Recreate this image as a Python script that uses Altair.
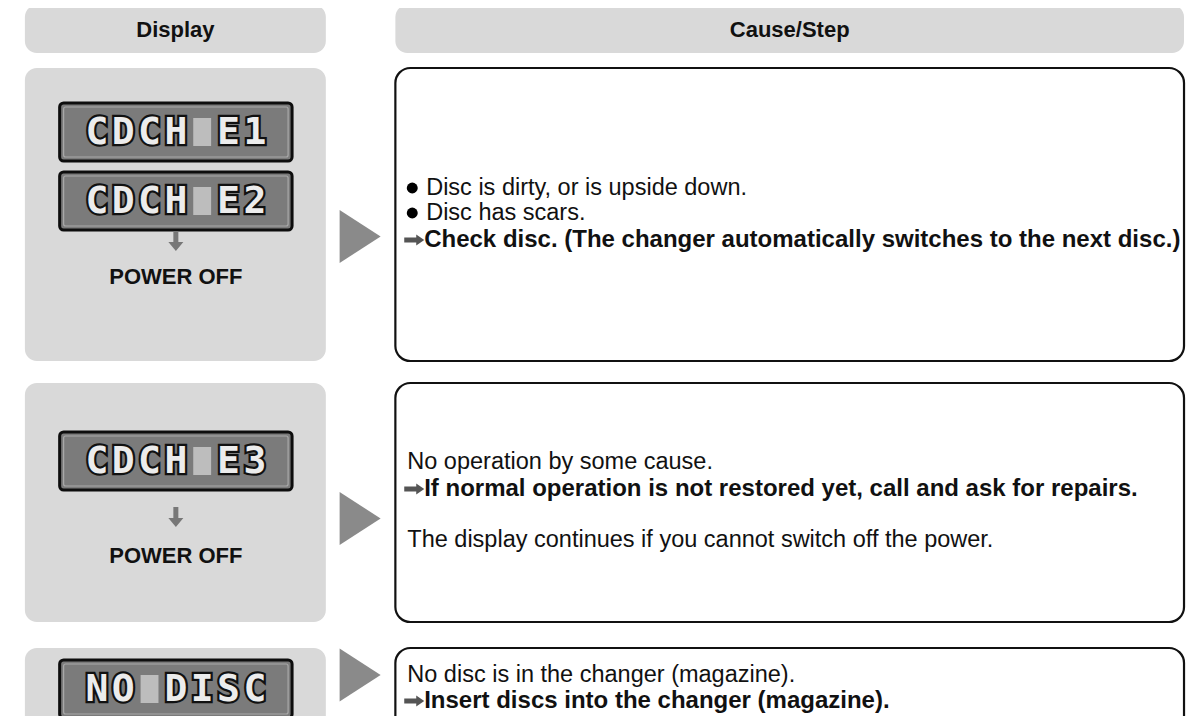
import altair as alt
import pandas as pd

# ---------------- content ----------------
headers = ["Display", "Cause/Step"]
lcd_rows = [["CDCH E1", "CDCH E2"], ["CDCH E3"], ["NO DISC"]]
after_lcd = ["POWER OFF", "POWER OFF", ""]
line_kinds = [["bullet", "bullet", "step"], ["plain", "step", "plain"], ["plain", "step"]]
line_texts = [
    ["Disc is dirty, or is upside down.",
     "Disc has scars.",
     "Check disc. (The changer automatically switches to the next disc.)"],
    ["No operation by some cause.",
     "If normal operation is not restored yet, call and ask for repairs.",
     "The display continues if you cannot switch off the power."],
    ["No disc is in the changer (magazine).",
     "Insert discs into the changer (magazine)."],
]

# ---------------- layout (reference pixel frame) ----------------
W, H = 1179, 708
XD = [8, 1195]
YD = [8, 716]
HEAD_Y = (5, 53)
LEFT = (25, 328)
RIGHT = (398, 1192)
ROW_Y = [(68, 361), (383, 622), (648, 760)]
TRI_Y = [236.5, 518.5, 675]
TRI_X = 362.5
LCD_X = (60, 294)
LCD_H = 58
LCD_TOPS = [[103, 172], [432], [660]]
DOWN_Y = [241, 517]
POWER_Y = [277, 556]
LINE_Y = [[188, 213, 240], [462, 489, 540], [675, 701]]
PLAIN_X, BULLET_X, BULLET_TX, ARROW_X, STEP_TX = 410, 415, 429, 417, 427
FONT = "Liberation Sans, Arial, sans-serif"

xs = alt.Scale(domain=XD, nice=False, zero=False)
ys = alt.Scale(domain=YD, nice=False, zero=False, reverse=True)


def X(f="x"):
    return alt.X(f"{f}:Q", scale=xs, axis=None)


def Y(f="y"):
    return alt.Y(f"{f}:Q", scale=ys, axis=None)


# ---------------- tables ----------------
grey = [dict(x=LEFT[0], x2=LEFT[1], y=HEAD_Y[0], y2=HEAD_Y[1]),
        dict(x=RIGHT[0], x2=RIGHT[1], y=HEAD_Y[0], y2=HEAD_Y[1])]
white = []
for (a, b) in ROW_Y:
    grey.append(dict(x=LEFT[0], x2=LEFT[1], y=a, y2=b))
    white.append(dict(x=RIGHT[0], x2=RIGHT[1], y=a, y2=b))
grey_df = pd.DataFrame(grey)
white_df = pd.DataFrame(white)

head_df = pd.DataFrame(dict(
    x=[(LEFT[0] + LEFT[1]) / 2, (RIGHT[0] + RIGHT[1]) / 2],
    y=[(HEAD_Y[0] + HEAD_Y[1]) / 2 + 1] * 2, t=headers))

tri_df = pd.DataFrame(dict(x=[TRI_X] * 3, y=TRI_Y))

lcd_boxes, lcd_chars, lcd_blank = [], [], []
cx = (LCD_X[0] + LCD_X[1]) / 2
pitch = 26.5
for r, labels in enumerate(lcd_rows):
    for k, lab in enumerate(labels):
        top = LCD_TOPS[r][k]
        lcd_boxes.append(dict(x=LCD_X[0], x2=LCD_X[1], y=top, y2=top + LCD_H))
        n = len(lab)
        for i, ch in enumerate(lab):
            px = cx + (i - (n - 1) / 2) * pitch
            py = top + LCD_H / 2
            if ch == " ":
                lcd_blank.append(dict(x=px - 9, x2=px + 9, y=py - 14, y2=py + 14))
            else:
                lcd_chars.append(dict(x=px, y=py + 1, t=ch))
lcdbox_df = pd.DataFrame(lcd_boxes)
inner_df = lcdbox_df.assign(x=lcdbox_df.x + 4, x2=lcdbox_df.x2 - 4,
                            y=lcdbox_df.y + 4, y2=lcdbox_df.y2 - 4)
chars_df = pd.DataFrame(lcd_chars)
blank_df = pd.DataFrame(lcd_blank)

down_df = pd.DataFrame(dict(x=[cx] * 2, y=DOWN_Y))
power_df = pd.DataFrame(dict(x=[cx] * 2, y=POWER_Y, t=after_lcd[:2]))

plain, bold, bullets, arrows = [], [], [], []
for r in range(3):
    for kind, txt, yy in zip(line_kinds[r], line_texts[r], LINE_Y[r]):
        if kind == "plain":
            plain.append(dict(x=PLAIN_X, y=yy, t=txt))
        elif kind == "bullet":
            bullets.append(dict(x=BULLET_X, y=yy))
            plain.append(dict(x=BULLET_TX, y=yy, t=txt))
        else:
            arrows.append(dict(x=ARROW_X, y=yy))
            bold.append(dict(x=STEP_TX, y=yy, t=txt))
plain_df = pd.DataFrame(plain)
bold_df = pd.DataFrame(bold)
bul_df = pd.DataFrame(bullets)
arr_df = pd.DataFrame(arrows)

TRI = "M-0.774,-1 L0.774,0 L-0.774,1 Z"
DOWN = "M-0.25,-1 L0.25,-1 L0.25,0.1 L0.75,0.1 L0,1 L-0.75,0.1 L-0.25,0.1 Z"
RARROW = "M-1,-0.26 L0.2,-0.26 L0.2,-0.55 L1,0 L0.2,0.55 L0.2,0.26 L-1,0.26 Z"

rect_enc = dict(x=X("x"), x2="x2:Q", y=Y("y"), y2="y2:Q")
txt_enc = dict(x=X(), y=Y(), text="t:N")

layers = [
    alt.Chart(grey_df).mark_rect(fill="#d9d9d9", cornerRadius=12, clip=True).encode(**rect_enc),
    alt.Chart(white_df).mark_rect(fill="white", stroke="#111", strokeWidth=2.2,
                                  cornerRadius=15, clip=True).encode(**rect_enc),
    alt.Chart(head_df).mark_text(font=FONT, fontSize=22, fontWeight="bold", color="#111",
                                 baseline="middle", align="center").encode(**txt_enc),
    alt.Chart(tri_df).mark_point(shape=TRI, size=2809, filled=True, color="#8a8a8a",
                                 opacity=1, strokeWidth=0, clip=True).encode(x=X(), y=Y()),
    alt.Chart(lcdbox_df).mark_rect(fill="#7b7b7b", stroke="#0d0d0d", strokeWidth=3,
                                   cornerRadius=4, clip=True).encode(**rect_enc),
    alt.Chart(inner_df).mark_rect(fill="#7b7b7b", stroke="#a9a9a9", strokeWidth=1.2,
                                  cornerRadius=2, clip=True).encode(**rect_enc),
    alt.Chart(blank_df).mark_rect(fill="#bdbdbd", clip=True).encode(**rect_enc),
    alt.Chart(chars_df).mark_text(font="DejaVu Sans Mono", fontSize=38, fontWeight="bold",
                                  fill="#111", stroke="#111", strokeWidth=4.5,
                                  strokeJoin="miter", baseline="middle", align="center",
                                  clip=True).encode(**txt_enc),
    alt.Chart(chars_df).mark_text(font="DejaVu Sans Mono", fontSize=38, fontWeight="bold",
                                  fill="#ececec", baseline="middle", align="center",
                                  clip=True).encode(**txt_enc),
    alt.Chart(down_df).mark_point(shape=DOWN, size=400, filled=True, color="#777",
                                  opacity=1, strokeWidth=0).encode(x=X(), y=Y()),
    alt.Chart(power_df).mark_text(font=FONT, fontSize=22, fontWeight="bold", color="#111",
                                  baseline="middle", align="center").encode(**txt_enc),
    alt.Chart(bul_df).mark_point(shape="circle", size=120, filled=True, color="#000",
                                 opacity=1, strokeWidth=0).encode(x=X(), y=Y()),
    alt.Chart(arr_df).mark_point(shape=RARROW, size=400, filled=True, color="#555",
                                 opacity=1, strokeWidth=0).encode(x=X(), y=Y()),
    alt.Chart(plain_df).mark_text(font=FONT, fontSize=23.5, color="#111", baseline="middle",
                                  align="left").encode(**txt_enc),
    alt.Chart(bold_df).mark_text(font=FONT, fontSize=24, fontWeight="bold", color="#111",
                                 baseline="middle", align="left").encode(**txt_enc),
]

chart = alt.layer(*layers).properties(
    width=W, height=H, padding=0, background="white",
    autosize=alt.AutoSizeParams(type="none"),
).configure_view(stroke=None)

chart.save("out.html", embed_options={"renderer": "svg", "actions": False})
